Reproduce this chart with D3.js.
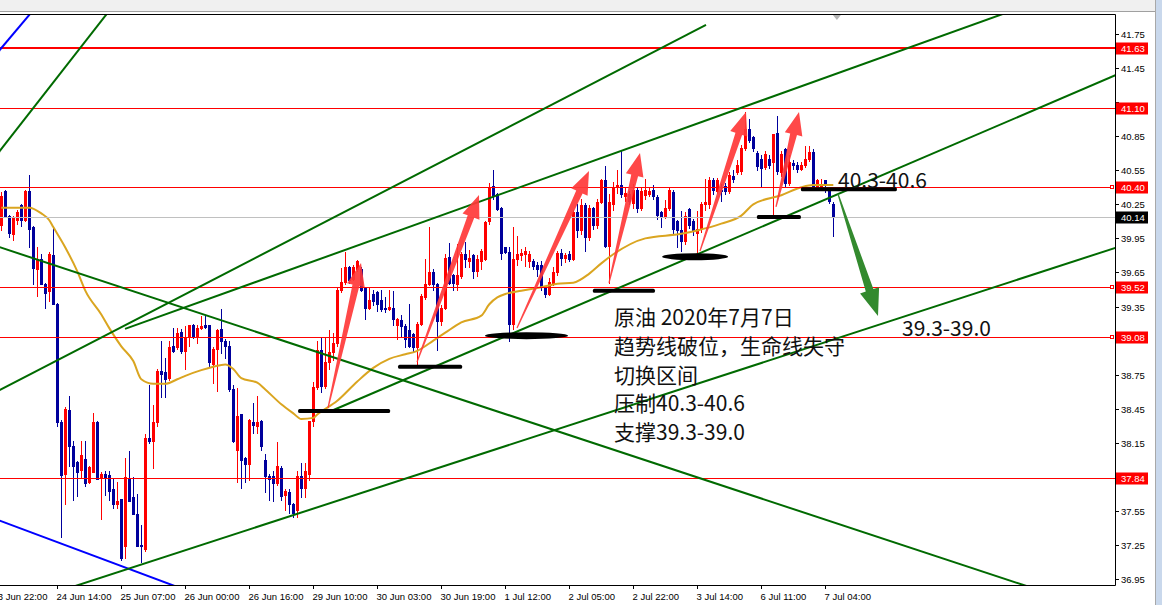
<!DOCTYPE html>
<html><head><meta charset="utf-8">
<script src="https://cdn.jsdelivr.net/npm/d3@7"></script>
<style>html,body{margin:0;padding:0;background:#fff;overflow:hidden}svg{display:block}</style>
</head><body><svg id="c" width="1162" height="605"></svg>
<script>
// ---- data (H1 bars, index 0 = first visible bar) ----
const opens = [40.07,40.37,40.15,39.99,40.11,40.24,40.11,40.37,40.05,39.68,39.77,39.55,39.49,39.80,39.37,38.33,37.88,38.44,38.12,37.98,37.91,38.01,37.81,37.89,38.33,37.85,37.88,37.87,37.74,37.61,37.66,37.24,37.84,37.67,37.52,37.25,37.22,38.19,38.17,38.33,38.78,38.77,38.72,39.00,38.99,39.13,38.96,39.08,39.19,39.08,39.16,39.19,39.19,38.84,38.98,39.15,39.05,39.00,38.62,38.09,38.40,38.02,37.96,38.33,38.30,38.34,38.00,37.86,37.86,37.80,37.93,37.69,37.72,37.61,37.56,37.86,37.75,37.88,38.34,38.64,38.97,38.65,38.86,38.95,39.03,39.50,39.57,39.70,39.59,39.68,39.68,39.52,39.34,39.46,39.48,39.41,39.34,39.33,39.34,39.19,39.23,39.18,39.14,39.11,38.99,39.20,39.43,39.55,39.65,39.55,39.22,39.34,39.79,39.63,39.55,39.62,39.81,39.75,39.80,39.66,39.75,39.77,40.10,40.41,40.34,40.22,39.87,39.83,39.20,39.77,39.80,39.81,39.75,39.75,39.72,39.72,39.52,39.46,39.56,39.65,39.82,39.78,39.81,39.77,40.18,40.02,40.24,39.96,40.22,40.07,40.27,40.46,39.88,40.25,40.40,40.42,40.32,40.34,40.26,40.38,40.22,40.33,40.34,40.38,40.31,40.18,40.15,40.22,40.36,40.10,40.02,39.93,40.21,40.10,40.00,40.03,40.25,40.25,40.46,40.37,40.38,40.41,40.37,40.50,40.53,40.54,40.75,40.91,40.84,40.70,40.65,40.58,40.65,40.62,40.88,40.53,40.74,40.44,40.61,40.60,40.56,40.60,40.65,40.71,40.40,40.40,40.46,40.38,40.25];
const highs = [40.36,40.38,40.16,40.15,40.20,40.25,40.38,40.51,40.06,39.87,39.81,39.56,39.83,40.06,39.38,38.35,38.47,38.56,38.17,37.99,38.17,38.17,37.95,38.41,38.34,37.89,37.90,37.90,37.83,37.81,37.66,38.02,38.08,37.85,37.70,37.43,38.23,38.66,38.48,38.80,39.05,38.90,39.05,39.16,39.16,39.15,39.18,39.19,39.20,39.19,39.27,39.27,39.19,38.99,39.15,39.33,39.06,39.05,38.66,38.63,38.40,38.03,38.36,38.50,38.56,38.35,38.05,37.88,37.90,38.16,37.95,37.74,37.74,37.62,37.90,37.97,37.97,38.34,38.69,39.05,39.08,39.08,39.14,39.12,39.52,39.69,39.83,39.71,39.72,39.76,39.70,39.52,39.52,39.50,39.49,39.50,39.43,39.50,39.49,39.25,39.28,39.20,39.37,39.12,39.21,39.46,39.77,40.05,39.68,39.56,39.36,39.81,39.91,39.64,39.90,39.83,39.92,39.85,39.81,39.80,39.86,40.10,40.44,40.55,40.35,40.23,39.87,39.87,40.05,39.97,39.86,39.87,39.84,39.77,39.74,39.75,39.53,39.60,39.70,39.84,39.86,39.82,39.84,40.20,40.25,40.30,40.26,40.24,40.23,40.30,40.47,40.59,40.34,40.45,40.55,40.72,40.40,40.37,40.43,40.39,40.40,40.47,40.40,40.42,40.33,40.19,40.29,40.40,40.38,40.11,40.19,40.18,40.22,40.12,40.19,40.27,40.47,40.49,40.48,40.48,40.43,40.44,40.53,40.55,40.64,40.77,41.06,41.00,40.85,40.72,40.68,40.72,40.68,40.87,41.03,40.72,40.75,40.68,40.64,40.62,40.62,40.76,40.76,40.74,40.47,40.47,40.46,40.40,40.27];
const lows = [40.02,40.14,39.96,39.94,40.08,40.06,40.10,39.87,39.55,39.44,39.55,39.34,39.40,39.37,38.30,37.32,37.61,37.95,37.65,37.68,37.85,37.77,37.80,37.89,37.83,37.48,37.69,37.65,37.58,37.58,37.12,37.14,37.64,37.52,37.24,37.10,37.20,38.15,37.93,38.30,38.55,38.55,38.70,38.95,38.98,38.94,38.80,39.00,39.07,39.03,39.15,39.16,38.83,38.68,38.61,38.94,38.90,38.61,38.16,37.81,37.75,37.81,37.82,38.24,38.24,38.09,37.72,37.65,37.64,37.78,37.65,37.56,37.53,37.50,37.50,37.67,37.67,37.82,38.30,38.62,38.60,38.63,38.80,38.88,39.00,39.48,39.55,39.56,39.58,39.66,39.49,39.24,39.33,39.36,39.31,39.31,39.30,39.32,39.19,39.06,39.08,38.99,38.99,38.96,38.84,39.19,39.42,39.54,39.50,38.97,39.19,39.33,39.55,39.50,39.50,39.60,39.70,39.70,39.60,39.62,39.68,39.76,40.08,40.30,40.20,39.77,39.82,39.05,39.15,39.72,39.76,39.71,39.70,39.68,39.62,39.50,39.43,39.45,39.54,39.63,39.72,39.74,39.75,39.76,39.96,39.99,39.84,39.94,40.03,40.04,40.26,39.87,39.56,40.20,40.35,40.31,40.28,40.25,40.22,40.18,40.20,40.30,40.32,40.30,40.12,40.05,40.13,40.20,40.00,39.87,39.84,39.90,40.04,39.98,39.82,40.01,40.20,40.22,40.34,40.35,40.28,40.34,40.35,40.45,40.52,40.52,40.73,40.80,40.72,40.55,40.41,40.56,40.57,40.15,40.52,40.50,40.40,40.42,40.56,40.53,40.55,40.58,40.63,40.40,40.38,40.38,40.36,40.26,39.97];
const closes = [40.32,40.15,40.00,40.14,40.18,40.11,40.37,40.03,39.69,39.77,39.55,39.47,39.81,39.37,38.33,37.87,38.45,38.12,37.95,37.89,38.04,37.80,37.94,38.33,37.83,37.88,37.85,37.73,37.61,37.64,37.14,37.85,37.64,37.52,37.24,37.24,38.19,38.17,38.33,38.78,38.76,38.71,38.99,38.96,39.12,38.96,39.08,39.19,39.08,39.16,39.18,39.17,38.86,38.98,39.14,39.05,39.00,38.62,38.17,38.39,38.00,37.96,38.35,38.31,38.33,38.12,37.86,37.83,37.80,37.95,37.68,37.73,37.61,37.53,37.86,37.75,37.90,38.34,38.64,38.97,38.65,38.86,38.95,39.03,39.50,39.57,39.70,39.58,39.70,39.75,39.50,39.34,39.41,39.40,39.37,39.33,39.33,39.35,39.24,39.24,39.18,39.06,39.00,38.99,39.20,39.44,39.55,39.65,39.55,39.22,39.34,39.78,39.56,39.56,39.63,39.81,39.77,39.78,39.66,39.77,39.84,40.09,40.40,40.32,40.21,39.82,39.83,39.20,39.77,39.81,39.82,39.84,39.81,39.71,39.68,39.52,39.46,39.57,39.65,39.82,39.78,39.80,39.77,40.18,40.02,40.24,39.96,40.22,40.07,40.27,40.46,39.88,40.27,40.40,40.42,40.34,40.35,40.28,40.38,40.22,40.37,40.38,40.37,40.32,40.16,40.15,40.22,40.38,40.03,40.02,39.93,40.15,40.07,40.02,40.03,40.25,40.27,40.46,40.38,40.46,40.37,40.37,40.51,40.47,40.60,40.75,40.91,40.82,40.75,40.59,40.57,40.69,40.60,40.87,40.54,40.69,40.44,40.62,40.60,40.56,40.60,40.65,40.71,40.40,40.46,40.43,40.42,40.28,40.14];

// moving average ("生命线")
const maBars   = [0,7,10,12,13,16,19,21,25,27,30,33,35,38,41,44,46,50,53,56,58,60,64,66,70,73,75,78,79,84,89,93,97,101,104,108,111,115,120,122,124,126,130,135,139,143,147,150,153,161,170,174,180,185,188,195,200,203,208];
const maValues = [40.22,40.22,40.17,40.11,40.05,39.87,39.66,39.49,39.28,39.16,39.00,38.87,38.71,38.67,38.67,38.71,38.74,38.79,38.82,38.84,38.80,38.72,38.68,38.62,38.49,38.41,38.36,38.37,38.40,38.52,38.69,38.81,38.89,38.93,38.96,39.05,39.12,39.21,39.27,39.37,39.43,39.46,39.49,39.52,39.55,39.56,39.64,39.73,39.81,39.95,39.99,40.02,40.08,40.15,40.25,40.33,40.40,40.42,40.42];

const priceTicks = [36.95,37.25,37.55,37.85,38.15,38.45,38.75,39.05,39.35,39.65,39.95,40.25,40.55,40.85,41.15,41.45,41.75];
const timeTickBars = [-2,14,30,46,62,78,94,110,126,142,158,174,190,206];
const timeTickLabels = ["23 Jun 22:00","24 Jun 14:00","25 Jun 07:00","26 Jun 00:00","26 Jun 16:00","29 Jun 10:00","30 Jun 03:00","30 Jun 19:00","1 Jul 12:00","2 Jul 05:00","2 Jul 22:00","3 Jul 14:00","6 Jul 11:00","7 Jul 04:00"];

const redLevels = [41.63,41.10,40.40,39.52,39.08,37.84];
const redLevelAlert = [false,false,true,true,true,false];
const currentPrice = 40.14;

// trend lines: [[bar, price],[bar, price]]
const blueLines = [[[-3,41.50],[8.5,41.98]], [[-1.325,37.478],[44.675,36.873]]];
const greenLines = [
  [[-1.575,40.667],[27.175,41.962]],
  [[-1.575,38.593],[176.175,41.829]],
  [[30.925,39.153],[252.175,41.948]],
  [[82.175,38.426],[279.675,41.403]],
  [[17.175,36.875],[279.675,39.880]],
  [[-1.575,39.886],[259.675,36.851]]
];
// black marker strokes: [fromBar, toBar, price]
const markBars = [[74.2,97.2,38.431],[99.2,115.2,38.821],[120.9,141.7,39.094],[147.9,163.4,39.490],[165.2,181.7,39.789],[188.9,199.9,40.139],[199.9,223.9,40.382]];
const markIsEllipse = [false,false,true,false,true,false,false];
// arrows: [[tailBar, tailPrice],[tipBar, tipPrice]]
const upArrows = [
  [[81.675,38.457],[89.925,39.734]],
  [[103.925,38.862],[119.425,40.332]],
  [[128.925,39.161],[146.925,40.543]],
  [[151.925,39.558],[159.675,40.702]],
  [[174.675,39.839],[186.175,41.063]],
  [[193.675,40.227],[199.425,41.063]]
];
const downArrow = [[209.175,40.341],[219.175,39.267]];
const resistText = {bar:209.175, price:40.391, text:"40.3-40.6"};
const supportText = {bar:225.175, price:39.091, text:"39.3-39.0"};
const noteAnchor = {bar:153.175, price:39.188};
const noteLines = ["原油 2020年7月7日","趋势线破位，生命线失守","切换区间","压制40.3-40.6","支撑39.3-39.0"];

// ---- drawing ----
const W = 1162, H = 605, PL = 0, PR = 1115, PT = 15, PB = 585;
const RED = "#ff0000", BLUE = "#00009c", GREEN = "#006a00";
const svg = d3.select("#c");
const x = d3.scaleLinear().domain([-0.325, 278.425]).range([PL, PR]);
const y = d3.scaleLinear().domain([36.95, 41.75]).range([579.2, 33.9]);
const cy = p => Math.round(y(p)) + 0.5;

svg.append("rect").attr("width", W).attr("height", H).attr("fill", "#fff");
svg.append("rect").attr("width", W).attr("height", 12).attr("fill", "#f0f0f0");
svg.append("line").attr("x1", 0).attr("x2", W).attr("y1", 11.5).attr("y2", 11.5).attr("stroke", "#a0a0a0");
svg.append("rect").attr("x", 1155).attr("y", 0).attr("width", 7).attr("height", H).attr("fill", "#c9d8ec");
svg.append("line").attr("x1", 1155.5).attr("x2", 1155.5).attr("y1", 0).attr("y2", H).attr("stroke", "#a8a8a8");

svg.append("defs").append("clipPath").attr("id", "plot")
  .append("rect").attr("x", PL).attr("y", PT).attr("width", PR - PL).attr("height", PB - PT);
const g = svg.append("g").attr("clip-path", "url(#plot)");

// candles
const idx = d3.range(opens.length);
const col = i => closes[i] > opens[i] ? RED : (closes[i] < opens[i] ? BLUE : "#000");
g.append("g").selectAll("rect").data(idx).join("rect")
  .attr("x", i => Math.round(x(i)))
  .attr("y", i => Math.round(y(highs[i])))
  .attr("width", 1)
  .attr("height", i => Math.max(1, Math.round(y(lows[i])) - Math.round(y(highs[i])) + 1))
  .attr("fill", col);
g.append("g").selectAll("rect").data(idx).join("rect")
  .attr("x", i => Math.round(x(i)) - 1)
  .attr("y", i => Math.round(y(Math.max(opens[i], closes[i]))))
  .attr("width", 3)
  .attr("height", i => Math.max(1, Math.round(y(Math.min(opens[i], closes[i]))) - Math.round(y(Math.max(opens[i], closes[i]))) + 1))
  .attr("fill", col);

// moving average
g.append("path")
  .attr("d", d3.line().x(d => x(d[0])).y(d => y(d[1])).curve(d3.curveMonotoneX)(maBars.map((b, k) => [b, maValues[k]])))
  .attr("fill", "none").attr("stroke", "#daa520").attr("stroke-width", 2);

// current price line
g.append("line").attr("x1", PL).attr("x2", PR).attr("y1", cy(currentPrice)).attr("y2", cy(currentPrice)).attr("stroke", "#c0c0c0");

// red levels
redLevels.forEach((p, k) => {
  g.append("line").attr("x1", PL).attr("x2", redLevelAlert[k] ? 1110 : PR)
    .attr("y1", k === 0 ? Math.round(y(p)) : cy(p)).attr("y2", k === 0 ? Math.round(y(p)) : cy(p))
    .attr("stroke", RED).attr("stroke-width", k === 0 ? 2 : 1);
  if (redLevelAlert[k]) {
    svg.append("rect").attr("x", 1110.5).attr("y", Math.round(y(p)) - 1.5).attr("width", 3).attr("height", 3)
      .attr("fill", "#fff").attr("stroke", RED);
  }
});

// trend lines
const seg = (arr, color) => arr.forEach(l => {
  g.append("line").attr("x1", x(l[0][0])).attr("y1", y(l[0][1])).attr("x2", x(l[1][0])).attr("y2", y(l[1][1]))
    .attr("stroke", color).attr("stroke-width", 2);
});
seg(blueLines, "#0000ff");
seg(greenLines, GREEN);

// black marker strokes
markBars.forEach((m, k) => {
  const x1 = x(m[0]), x2 = x(m[1]), yy = y(m[2]);
  if (markIsEllipse[k]) {
    g.append("ellipse").attr("cx", (x1 + x2) / 2).attr("cy", yy).attr("rx", (x2 - x1) / 2).attr("ry", 3.5).attr("fill", "#000");
  } else {
    g.append("rect").attr("x", x1).attr("y", yy - 2).attr("width", x2 - x1).attr("height", 4).attr("rx", 1.5).attr("fill", "#000");
  }
});

// arrows
function arrowPath(a, w0, w1, hw, hl) {
  const tx = x(a[0][0]), ty = y(a[0][1]), px = x(a[1][0]), py = y(a[1][1]);
  const L = Math.hypot(px - tx, py - ty), ux = (px - tx) / L, uy = (py - ty) / L;
  const nx = -uy, ny = ux, bx = px - ux * hl, by = py - uy * hl;
  const pts = [[tx + nx * w0 / 2, ty + ny * w0 / 2], [bx + nx * w1 / 2, by + ny * w1 / 2], [bx + nx * hw, by + ny * hw], [px, py],
    [bx - nx * hw, by - ny * hw], [bx - nx * w1 / 2, by - ny * w1 / 2], [tx - nx * w0 / 2, ty - ny * w0 / 2]];
  return "M" + pts.map(p => p.join(",")).join("L") + "Z";
}
upArrows.forEach(a => g.append("path").attr("d", arrowPath(a, 1.2, 7, 9, 23)).attr("fill", "#ff3838").attr("fill-opacity", 0.92));
g.append("path").attr("d", arrowPath(downArrow, 1.2, 8, 10, 27)).attr("fill", "#338a2e");

// texts
const FONT = "'Noto Sans CJK SC','Noto Sans',sans-serif";
[resistText, supportText].forEach(t => svg.append("text").attr("x", x(t.bar)).attr("y", y(t.price))
  .attr("font-family", FONT).attr("font-size", 21).attr("fill", "#111").text(t.text));
const note = svg.append("text").attr("x", x(noteAnchor.bar)).attr("y", y(noteAnchor.price))
  .attr("font-family", FONT).attr("font-size", 21).attr("fill", "#111");
noteLines.forEach((s, k) => note.append("tspan").attr("x", x(noteAnchor.bar)).attr("dy", k === 0 ? 0 : 28.8).text(s));

// frame
svg.append("line").attr("x1", 0).attr("x2", PR + 0.5).attr("y1", PT - 0.5).attr("y2", PT - 0.5).attr("stroke", "#000");
svg.append("line").attr("x1", PR + 0.5).attr("x2", PR + 0.5).attr("y1", PT - 0.5).attr("y2", PB + 0.5).attr("stroke", "#000");
svg.append("line").attr("x1", 0).attr("x2", PR + 0.5).attr("y1", PB + 0.5).attr("y2", PB + 0.5).attr("stroke", "#000");
// chart-shift marker
const sx = x(208.9);
svg.append("path").attr("d", `M${sx - 4},${PT}L${sx + 4},${PT}L${sx},${PT + 5}Z`).attr("fill", "#b4b4b4");

// price axis (tick labels covered by a level box are hidden, as in the terminal)
const AF = "'Liberation Sans',Arial,sans-serif";
const pa = svg.append("g");
const boxLevels = redLevels.concat([currentPrice]);
priceTicks.forEach(p => {
  const yy = Math.round(y(p));
  pa.append("line").attr("x1", PR).attr("x2", PR + 4).attr("y1", yy + 0.5).attr("y2", yy + 0.5).attr("stroke", "#000");
  const covered = boxLevels.some(b => Math.abs(y(b) - y(p)) < 10);
  if (!covered) pa.append("text").attr("x", 1121).attr("y", yy + 3.5).attr("font-family", AF).attr("font-size", 9.5).attr("fill", "#000").text(p.toFixed(2));
});
const box = (p, fill) => {
  const yy = Math.round(y(p));
  pa.append("rect").attr("x", 1116).attr("y", yy - 5.5).attr("width", 32).attr("height", 12).attr("fill", fill);
  pa.append("text").attr("x", 1121).attr("y", yy + 4).attr("font-family", AF).attr("font-size", 9.5).attr("fill", "#fff").text(p.toFixed(2));
};
redLevels.forEach(p => box(p, RED));
box(currentPrice, "#000");

// time axis
timeTickBars.forEach((b, k) => {
  const xx = Math.round(x(b)) + 0.5;
  svg.append("line").attr("x1", xx).attr("x2", xx).attr("y1", PB).attr("y2", PB + 4).attr("stroke", "#000");
  svg.append("text").attr("x", xx - 1).attr("y", 599.5).attr("font-family", AF).attr("font-size", 9.5).attr("fill", "#000").text(timeTickLabels[k]);
});
</script></body></html>
